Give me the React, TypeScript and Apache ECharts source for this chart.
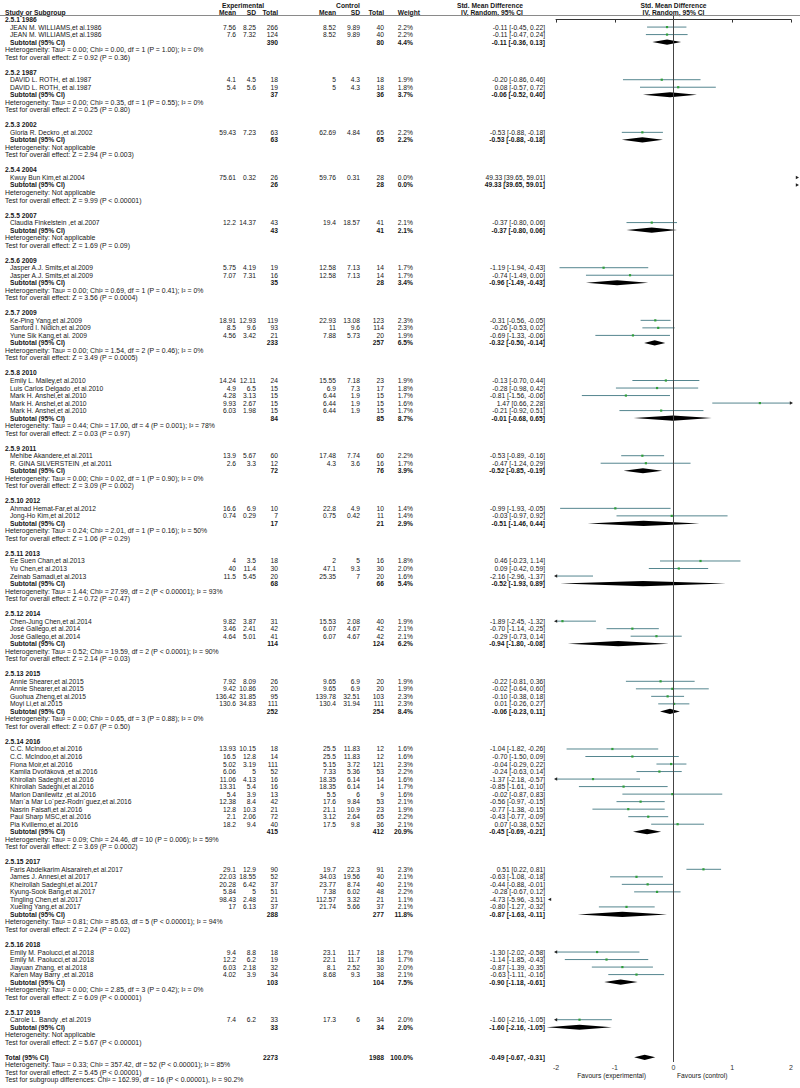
import React, { useEffect, useRef } from "react";
import * as echarts from "echarts";

// ---------------- DATA ----------------
const groupTitles = [
  "2.5.1 1986", "2.5.2 1987", "2.5.3 2002", "2.5.4 2004", "2.5.5 2007", "2.5.6 2009",
  "2.5.7 2009", "2.5.8 2010", "2.5.9 2011", "2.5.10 2012", "2.5.11 2013", "2.5.12 2014",
  "2.5.13 2015", "2.5.14 2016", "2.5.15 2017", "2.5.16 2018", "2.5.17 2019",
];
const groupSizes = [2, 2, 1, 1, 1, 2, 3, 5, 2, 2, 3, 3, 4, 11, 6, 4, 1];

const studyNames = [
  "JEAN M. WILLIAMS,et al.1986", "JEAN M. WILLIAMS,et al.1986",
  "DAVID L. ROTH, et al.1987", "DAVID L. ROTH, et al.1987",
  "Gloria R. Deckro ,et al.2002",
  "Kwuy Bun Kim,et al.2004",
  "Claudia Finkelstein ,et al.2007",
  "Jasper A.J. Smits,et al.2009", "Jasper A.J. Smits,et al.2009",
  "Ke-Ping Yang,et al.2009", "Sanford I. Nidich,et al.2009", "Yune Sik Kang,et al. 2009",
  "Emily L. Mailey,et al.2010", "Luis Carlos Delgado ,et al.2010", "Mark H. Anshel,et al.2010",
  "Mark H. Anshel,et al.2010", "Mark H. Anshel,et al.2010",
  "Mehibe Akandere,et al.2011", "R. GINA SILVERSTEIN ,et al.2011",
  "Ahmad Hemat-Far,et al.2012", "Jong-Ho Kim,et al.2012",
  "Ee Suen Chan,et al.2013", "Yu Chen,et al.2013", "Zeinab Samadi,et al.2013",
  "Chen-Jung Chen,et al.2014", "José Gallego,et al.2014", "José Gallego,et al.2014",
  "Annie Shearer,et al.2015", "Annie Shearer,et al.2015", "Guohua Zheng,et al.2015", "Moyi Li,et al.2015",
  "C.C. McIndoo,et al.2016", "C.C. McIndoo,et al.2016", "Fiona Moir,et al.2016",
  "Kamila Dvořáková ,et al.2016", "Khirollah Sadeghi,et al.2016", "Khirollah Sadeghi,et al.2016",
  "Marlon Danilewitz ,et al.2016", "Marı´a Mar Lo´pez-Rodrı´guez,et al.2016", "Nasrin Falsafi,et al.2016",
  "Paul Sharp MSC,et al.2016", "Pia Kvillemo,et al.2016",
  "Faris Abdelkarim Alsaraireh,et al.2017", "James J. Annesi,et al.2017", "Kheirollah Sadeghi,et al.2017",
  "Kyung-Sook Bang,et al.2017", "Tingling Chen,et al.2017", "Xueling Yang,et al.2017",
  "Emily M. Paolucci,et al.2018", "Emily M. Paolucci,et al.2018", "Jiayuan Zhang, et al.2018",
  "Karen May Barry ,et al.2018",
  "Carole L. Bandy ,et al.2019",
];
const expMean = [7.56, 7.6, 4.1, 5.4, 59.43, 75.61, 12.2, 5.75, 7.07, 18.91, 8.5, 4.56, 14.24, 4.9, 4.28, 9.93, 6.03, 13.9, 2.6, 16.6, 0.74, 4, 40, 11.5, 9.82, 3.46, 4.64, 7.92, 9.42, 136.42, 130.6, 13.93, 16.5, 5.02, 6.06, 11.06, 13.31, 5.4, 12.38, 12.8, 2.1, 18.2, 29.1, 22.03, 20.28, 5.84, 98.43, 17, 9.4, 12.2, 6.03, 4.02, 7.4];
const expSD = [8.25, 7.32, 4.5, 5.6, 7.23, 0.32, 14.37, 4.19, 7.31, 12.93, 9.6, 3.42, 12.11, 6.5, 3.13, 2.67, 1.98, 5.67, 3.3, 6.9, 0.29, 3.5, 11.4, 5.45, 3.87, 2.41, 5.01, 8.09, 10.86, 31.85, 34.83, 10.15, 12.8, 3.19, 5, 4.13, 5.4, 3.9, 8.4, 10.3, 2.06, 9.4, 12.9, 18.55, 6.42, 5, 2.48, 6.13, 8.8, 6.2, 2.18, 3.9, 6.2];
const expTotal = [266, 124, 18, 19, 63, 26, 43, 19, 16, 119, 93, 21, 24, 15, 15, 15, 15, 60, 12, 10, 7, 18, 30, 20, 31, 42, 41, 26, 20, 95, 111, 18, 14, 111, 52, 16, 16, 13, 42, 21, 72, 40, 90, 52, 37, 51, 21, 37, 18, 19, 32, 34, 33];
const ctlMean = [8.52, 8.52, 5, 5, 62.69, 59.76, 19.4, 12.58, 12.58, 22.93, 11, 7.88, 15.55, 6.9, 6.44, 6.44, 6.44, 17.48, 4.3, 22.8, 0.75, 2, 47.1, 25.35, 15.53, 6.07, 6.07, 9.65, 9.65, 139.78, 130.4, 25.5, 25.5, 5.15, 7.33, 18.35, 18.35, 5.5, 17.6, 21.1, 3.12, 17.5, 19.7, 34.03, 23.77, 7.38, 112.57, 21.74, 23.1, 22.1, 8.1, 8.68, 17.3];
const ctlSD = [9.89, 9.89, 4.3, 4.3, 4.84, 0.31, 18.57, 7.13, 7.13, 13.08, 9.6, 5.73, 7.18, 7.3, 1.9, 1.9, 1.9, 7.74, 3.6, 4.9, 0.42, 5, 9.3, 7, 2.08, 4.67, 4.67, 6.9, 6.9, 32.51, 31.94, 11.83, 11.83, 3.72, 5.36, 6.14, 6.14, 6, 9.84, 10.9, 2.64, 9.8, 22.3, 19.56, 8.74, 6.02, 3.32, 5.66, 11.7, 11.7, 2.52, 9.3, 6];
const ctlTotal = [40, 40, 18, 18, 65, 28, 41, 14, 14, 123, 114, 20, 23, 17, 15, 15, 15, 60, 16, 10, 11, 16, 30, 20, 40, 42, 42, 20, 20, 103, 111, 12, 12, 121, 53, 14, 14, 9, 53, 23, 65, 36, 91, 40, 40, 48, 21, 37, 18, 18, 30, 38, 34];
const weights = [2.2, 2.2, 1.9, 1.8, 2.2, 0.0, 2.1, 1.7, 1.7, 2.3, 2.3, 1.9, 1.9, 1.8, 1.7, 1.6, 1.7, 2.2, 1.7, 1.4, 1.4, 1.8, 2.0, 1.6, 1.9, 2.1, 2.1, 1.9, 1.9, 2.3, 2.3, 1.6, 1.6, 2.3, 2.2, 1.6, 1.7, 1.6, 2.1, 1.9, 2.2, 2.1, 2.3, 2.1, 2.1, 2.2, 1.1, 2.1, 1.7, 1.7, 2.0, 2.1, 2.0];
const smd = [-0.11, -0.11, -0.20, 0.08, -0.53, 49.33, -0.37, -1.19, -0.74, -0.31, -0.26, -0.69, -0.13, -0.28, -0.81, 1.47, -0.21, -0.53, -0.47, -0.99, -0.03, 0.46, 0.09, -2.16, -1.89, -0.70, -0.29, -0.22, -0.02, -0.10, 0.01, -1.04, -0.70, -0.04, -0.24, -1.37, -0.85, -0.02, -0.56, -0.77, -0.43, 0.07, 0.51, -0.63, -0.44, -0.28, -4.73, -0.80, -1.30, -1.14, -0.87, -0.63, -1.60];
const ciLow = [-0.45, -0.47, -0.86, -0.57, -0.88, 39.65, -0.80, -1.94, -1.49, -0.56, -0.53, -1.33, -0.70, -0.98, -1.56, 0.66, -0.92, -0.89, -1.24, -1.93, -0.97, -0.23, -0.42, -2.96, -2.45, -1.14, -0.73, -0.81, -0.64, -0.38, -0.26, -1.82, -1.50, -0.29, -0.63, -2.18, -1.61, -0.87, -0.97, -1.38, -0.77, -0.38, 0.22, -1.08, -0.88, -0.67, -5.96, -1.27, -2.02, -1.85, -1.39, -1.11, -2.16];
const ciHigh = [0.22, 0.24, 0.46, 0.72, -0.18, 59.01, 0.06, -0.43, 0.00, -0.05, 0.02, -0.06, 0.44, 0.42, -0.06, 2.28, 0.51, -0.16, 0.29, -0.05, 0.92, 1.14, 0.59, -1.37, -1.32, -0.25, 0.14, 0.36, 0.60, 0.18, 0.27, -0.26, 0.09, 0.22, 0.14, -0.57, -0.10, 0.83, -0.15, -0.15, -0.09, 0.52, 0.81, -0.18, -0.01, 0.12, -3.51, -0.32, -0.58, -0.43, -0.35, -0.16, -1.05];

const subExp = [390, 37, 63, 26, 43, 35, 233, 84, 72, 17, 68, 114, 252, 415, 288, 103, 33];
const subCtl = [80, 36, 65, 28, 41, 28, 257, 85, 76, 21, 66, 124, 254, 412, 277, 104, 34];
const subWeight = [4.4, 3.7, 2.2, 0.0, 2.1, 3.4, 6.5, 8.7, 3.9, 2.9, 5.4, 6.2, 8.4, 20.9, 11.8, 7.5, 2.0];
const subSmd = [-0.11, -0.06, -0.53, 49.33, -0.37, -0.96, -0.32, -0.01, -0.52, -0.51, -0.52, -0.94, -0.06, -0.45, -0.87, -0.90, -1.60];
const subLow = [-0.36, -0.52, -0.88, 39.65, -0.80, -1.49, -0.50, -0.68, -0.85, -1.46, -1.93, -1.80, -0.23, -0.69, -1.63, -1.18, -2.16];
const subHigh = [0.13, 0.40, -0.18, 59.01, 0.06, -0.43, -0.14, 0.65, -0.19, 0.44, 0.89, -0.08, 0.11, -0.21, -0.11, -0.61, -1.05];

const heterogeneity = [
  "Heterogeneity: Tau² = 0.00; Chi² = 0.00, df = 1 (P = 1.00); I² = 0%",
  "Heterogeneity: Tau² = 0.00; Chi² = 0.35, df = 1 (P = 0.55); I² = 0%",
  "Heterogeneity: Not applicable",
  "Heterogeneity: Not applicable",
  "Heterogeneity: Not applicable",
  "Heterogeneity: Tau² = 0.00; Chi² = 0.69, df = 1 (P = 0.41); I² = 0%",
  "Heterogeneity: Tau² = 0.00; Chi² = 1.54, df = 2 (P = 0.46); I² = 0%",
  "Heterogeneity: Tau² = 0.44; Chi² = 17.00, df = 4 (P = 0.001); I² = 78%",
  "Heterogeneity: Tau² = 0.00; Chi² = 0.02, df = 1 (P = 0.90); I² = 0%",
  "Heterogeneity: Tau² = 0.24; Chi² = 2.01, df = 1 (P = 0.16); I² = 50%",
  "Heterogeneity: Tau² = 1.44; Chi² = 27.99, df = 2 (P < 0.00001); I² = 93%",
  "Heterogeneity: Tau² = 0.52; Chi² = 19.59, df = 2 (P < 0.0001); I² = 90%",
  "Heterogeneity: Tau² = 0.00; Chi² = 0.65, df = 3 (P = 0.88); I² = 0%",
  "Heterogeneity: Tau² = 0.09; Chi² = 24.46, df = 10 (P = 0.006); I² = 59%",
  "Heterogeneity: Tau² = 0.81; Chi² = 85.63, df = 5 (P < 0.00001); I² = 94%",
  "Heterogeneity: Tau² = 0.00; Chi² = 2.85, df = 3 (P = 0.42); I² = 0%",
  "Heterogeneity: Not applicable",
];
const overallTests = [
  "Test for overall effect: Z = 0.92 (P = 0.36)",
  "Test for overall effect: Z = 0.25 (P = 0.80)",
  "Test for overall effect: Z = 2.94 (P = 0.003)",
  "Test for overall effect: Z = 9.99 (P < 0.00001)",
  "Test for overall effect: Z = 1.69 (P = 0.09)",
  "Test for overall effect: Z = 3.56 (P = 0.0004)",
  "Test for overall effect: Z = 3.49 (P = 0.0005)",
  "Test for overall effect: Z = 0.03 (P = 0.97)",
  "Test for overall effect: Z = 3.09 (P = 0.002)",
  "Test for overall effect: Z = 1.06 (P = 0.29)",
  "Test for overall effect: Z = 0.72 (P = 0.47)",
  "Test for overall effect: Z = 2.14 (P = 0.03)",
  "Test for overall effect: Z = 0.67 (P = 0.50)",
  "Test for overall effect: Z = 3.69 (P = 0.0002)",
  "Test for overall effect: Z = 2.24 (P = 0.02)",
  "Test for overall effect: Z = 6.09 (P < 0.00001)",
  "Test for overall effect: Z = 5.67 (P < 0.00001)",
];

const totalExp = 2273;
const totalCtl = 1988;
const totalWeight = 100.0;
const totalEffect = [-0.49, -0.67, -0.31];
const totalNotes = [
  "Heterogeneity: Tau² = 0.33; Chi² = 357.42, df = 52 (P < 0.00001); I² = 85%",
  "Test for overall effect: Z = 5.45 (P < 0.00001)",
  "Test for subgroup differences: Chi² = 162.99, df = 16 (P < 0.00001), I² = 90.2%",
];
const xTicks = [-2, -1, 0, 1, 2];
const favoursLabels = ["Favours (experimental)", "Favours (control)"];

// ---------------- LAYOUT ----------------
const W = 800;
const H = 1088;
const P = 7.52; // row pitch (px)
const R0 = -2.6; // row value at top edge
const AXIS_Y = 1062;
const FOREST_L = 556;
const FOREST_R = 791;
const FS = 6.7;
const FS_NOTE = 6.9;
const FONT = "'Liberation Sans', Arial, sans-serif";
const TEXT_COLOR = "#161616";
const CI_COLOR = "#55868f";
const SQ_COLOR = "#2f9e3a";
const pxToRow = (py: number) => py / P + R0;

const COL = {
  hdr: 5, name: 10, expMean: 236, expSD: 256, expTot: 278,
  ctlMean: 336, ctlSD: 360, ctlTot: 384, weight: 413, ci: 545,
};

type TextItem = { x: number; r: number; text: string; align: "left" | "right" | "center"; bold?: boolean; size?: number };

const f2 = (v: number) => v.toFixed(2);
const ciText = (e: number, l: number, h: number) => `${f2(e)} [${f2(l)}, ${f2(h)}]`;

function buildRows() {
  const texts: TextItem[] = [];
  const studies: number[][] = [];
  const diamonds: number[][] = [];
  let r = 0;
  let s = 0;
  groupTitles.forEach((title, g) => {
    texts.push({ x: COL.hdr, r, text: title, align: "left", bold: true });
    r++;
    for (let k = 0; k < groupSizes[g]; k++, s++) {
      texts.push({ x: COL.name, r, text: studyNames[s], align: "left" });
      texts.push({ x: COL.expMean, r, text: String(expMean[s]), align: "right" });
      texts.push({ x: COL.expSD, r, text: String(expSD[s]), align: "right" });
      texts.push({ x: COL.expTot, r, text: String(expTotal[s]), align: "right" });
      texts.push({ x: COL.ctlMean, r, text: String(ctlMean[s]), align: "right" });
      texts.push({ x: COL.ctlSD, r, text: String(ctlSD[s]), align: "right" });
      texts.push({ x: COL.ctlTot, r, text: String(ctlTotal[s]), align: "right" });
      texts.push({ x: COL.weight, r, text: weights[s].toFixed(1) + "%", align: "right" });
      texts.push({ x: COL.ci, r, text: ciText(smd[s], ciLow[s], ciHigh[s]), align: "right" });
      studies.push([smd[s], ciLow[s], ciHigh[s], r]);
      r++;
    }
    texts.push({ x: COL.name, r, text: "Subtotal (95% CI)", align: "left", bold: true });
    texts.push({ x: COL.expTot, r, text: String(subExp[g]), align: "right", bold: true });
    texts.push({ x: COL.ctlTot, r, text: String(subCtl[g]), align: "right", bold: true });
    texts.push({ x: COL.weight, r, text: subWeight[g].toFixed(1) + "%", align: "right", bold: true });
    texts.push({ x: COL.ci, r, text: ciText(subSmd[g], subLow[g], subHigh[g]), align: "right", bold: true });
    diamonds.push([subSmd[g], subLow[g], subHigh[g], r]);
    r++;
    texts.push({ x: COL.hdr, r, text: heterogeneity[g], align: "left", size: FS_NOTE });
    r++;
    texts.push({ x: COL.hdr, r, text: overallTests[g], align: "left", size: FS_NOTE });
    r++;
    r++; // blank
  });
  texts.push({ x: COL.hdr, r, text: "Total (95% CI)", align: "left", bold: true });
  texts.push({ x: COL.expTot, r, text: String(totalExp), align: "right", bold: true });
  texts.push({ x: COL.ctlTot, r, text: String(totalCtl), align: "right", bold: true });
  texts.push({ x: COL.weight, r, text: totalWeight.toFixed(1) + "%", align: "right", bold: true });
  texts.push({ x: COL.ci, r, text: ciText(totalEffect[0], totalEffect[1], totalEffect[2]), align: "right", bold: true });
  diamonds.push([totalEffect[0], totalEffect[1], totalEffect[2], r]);
  r++;
  totalNotes.forEach((t) => {
    texts.push({ x: COL.hdr, r, text: t, align: "left", size: FS_NOTE });
    r++;
  });

  // header
  const ha = pxToRow(5.8);
  const hb = pxToRow(12.6);
  texts.push({ x: 243, r: ha, text: "Experimental", align: "center", bold: true });
  texts.push({ x: 348, r: ha, text: "Control", align: "center", bold: true });
  texts.push({ x: 490, r: ha, text: "Std. Mean Difference", align: "center", bold: true });
  texts.push({ x: 673.5, r: ha, text: "Std. Mean Difference", align: "center", bold: true });
  texts.push({ x: COL.hdr, r: hb, text: "Study or Subgroup", align: "left", bold: true });
  texts.push({ x: COL.expMean, r: hb, text: "Mean", align: "right", bold: true });
  texts.push({ x: COL.expSD, r: hb, text: "SD", align: "right", bold: true });
  texts.push({ x: COL.expTot, r: hb, text: "Total", align: "right", bold: true });
  texts.push({ x: COL.ctlMean, r: hb, text: "Mean", align: "right", bold: true });
  texts.push({ x: COL.ctlSD, r: hb, text: "SD", align: "right", bold: true });
  texts.push({ x: COL.ctlTot, r: hb, text: "Total", align: "right", bold: true });
  texts.push({ x: 420, r: hb, text: "Weight", align: "right", bold: true });
  texts.push({ x: 492, r: hb, text: "IV, Random, 95% CI", align: "center", bold: true });
  texts.push({ x: 673.5, r: hb, text: "IV, Random, 95% CI", align: "center", bold: true });

  // favours labels
  const fr = pxToRow(1075.5);
  texts.push({ x: 646, r: fr, text: favoursLabels[0], align: "right" });
  texts.push({ x: 677, r: fr, text: favoursLabels[1], align: "left" });

  return { texts, studies, diamonds };
}

export default function App() {
  const ref = useRef<HTMLDivElement>(null);
  useEffect(() => {
    if (!ref.current) return;
    const chart = echarts.init(ref.current, undefined, { renderer: "svg" });
    const { texts, studies, diamonds } = buildRows();
    const X_MIN = xTicks[0];
    const X_MAX = xTicks[xTicks.length - 1];
    const forestMaxRow = pxToRow(AXIS_Y);
    const headerLineRow = pxToRow(15.5);

    const arrowHead = (tipX: number, y: number, dir: number) => ({
      type: "polygon",
      shape: { points: [[tipX, y], [tipX - dir * 3.2, y - 1.7], [tipX - dir * 3.2, y + 1.7]] },
      style: { fill: "#222" },
    });

    const option: any = {
      animation: false,
      backgroundColor: "#ffffff",
      grid: [
        { left: 0, right: 0, top: 0, bottom: 0, outerBoundsMode: "none" },
        { left: FOREST_L, right: W - FOREST_R, top: 0, height: AXIS_Y, outerBoundsMode: "none" },
      ],
      xAxis: [
        { gridIndex: 0, type: "value", min: 0, max: W, show: false },
        {
          gridIndex: 1, type: "value", min: X_MIN, max: X_MAX, interval: 1,
          axisLine: { show: true, lineStyle: { color: "#333", width: 1 } },
          axisTick: { show: true, length: 3, lineStyle: { color: "#333" } },
          axisLabel: { fontSize: 7, color: "#333", margin: 2, fontFamily: FONT },
          splitLine: { show: false },
        },
      ],
      yAxis: [
        { gridIndex: 0, type: "value", min: R0, max: R0 + H / P, inverse: true, show: false },
        { gridIndex: 1, type: "value", min: R0, max: forestMaxRow, inverse: true, show: false },
      ],
      series: [
        {
          type: "line", xAxisIndex: 0, yAxisIndex: 0, symbol: "none", silent: true,
          data: [[0, headerLineRow], [W, headerLineRow]],
          lineStyle: { color: "#8a8a8a", width: 1 },
        },
        {
          type: "line", xAxisIndex: 1, yAxisIndex: 1, symbol: "none", silent: true,
          data: [[0, headerLineRow], [0, forestMaxRow]],
          lineStyle: { color: "#444", width: 1 },
        },
        {
          type: "custom", xAxisIndex: 1, yAxisIndex: 1, clip: false, silent: true,
          encode: { x: [0, 1, 2], y: 3 },
          data: studies,
          renderItem: (params: any, api: any) => {
            const est = api.value(0), lo = api.value(1), hi = api.value(2), rr = api.value(3);
            const y = api.coord([0, rr])[1];
            const xA = api.coord([X_MIN, rr])[0];
            const xB = api.coord([X_MAX, rr])[0];
            const children: any[] = [];
            if (lo > X_MAX || hi < X_MIN) {
              const right = lo > X_MAX;
              children.push(arrowHead(right ? xB + 8 : xA - 8, y, right ? 1 : -1));
            } else {
              const x1 = lo < X_MIN ? xA : api.coord([lo, rr])[0];
              const x2 = hi > X_MAX ? xB : api.coord([hi, rr])[0];
              children.push({ type: "line", shape: { x1, y1: y, x2, y2: y }, style: { stroke: CI_COLOR, lineWidth: 1 } });
              if (lo < X_MIN) children.push(arrowHead(xA - 2, y, -1));
              if (hi > X_MAX) children.push(arrowHead(xB + 2, y, 1));
              if (est >= X_MIN && est <= X_MAX) {
                const xe = api.coord([est, rr])[0];
                children.push({ type: "rect", shape: { x: xe - 1.1, y: y - 1.1, width: 2.2, height: 2.2 }, style: { fill: SQ_COLOR } });
              }
            }
            return { type: "group", children };
          },
        },
        {
          type: "custom", xAxisIndex: 1, yAxisIndex: 1, clip: false, silent: true,
          encode: { x: [0, 1, 2], y: 3 },
          data: diamonds,
          renderItem: (params: any, api: any) => {
            const est = api.value(0), lo = api.value(1), hi = api.value(2), rr = api.value(3);
            const y = api.coord([0, rr])[1];
            const xB = api.coord([X_MAX, rr])[0];
            const xA = api.coord([X_MIN, rr])[0];
            if (lo > X_MAX || hi < X_MIN) {
              const right = lo > X_MAX;
              return arrowHead(right ? xB + 8 : xA - 8, y, right ? 1 : -1);
            }
            const xl = api.coord([lo, rr])[0];
            const xh = api.coord([hi, rr])[0];
            const xe = api.coord([est, rr])[0];
            const h = 2.6;
            return {
              type: "polygon",
              shape: { points: [[xl, y], [xe, y - h], [xh, y], [xe, y + h]] },
              style: { fill: "#000" },
            };
          },
        },
        {
          type: "custom", xAxisIndex: 0, yAxisIndex: 0, clip: false, silent: true,
          data: texts.map((t) => [t.x, t.r]),
          renderItem: (params: any, api: any) => {
            const t = texts[params.dataIndex];
            const pt = api.coord([api.value(0), api.value(1)]);
            return {
              type: "text",
              x: pt[0],
              y: pt[1],
              style: {
                text: t.text,
                fill: TEXT_COLOR,
                fontSize: t.size ?? FS,
                fontFamily: FONT,
                fontWeight: t.bold ? "bold" : "normal",
                textAlign: t.align,
                textVerticalAlign: "middle",
              },
            };
          },
        },
      ],
    };
    chart.setOption(option);
    return () => chart.dispose();
  }, []);
  return (
    <div
      ref={ref}
      style={{ position: "absolute", left: 0, top: 0, width: W, height: H, background: "#fff" }}
    />
  );
}
